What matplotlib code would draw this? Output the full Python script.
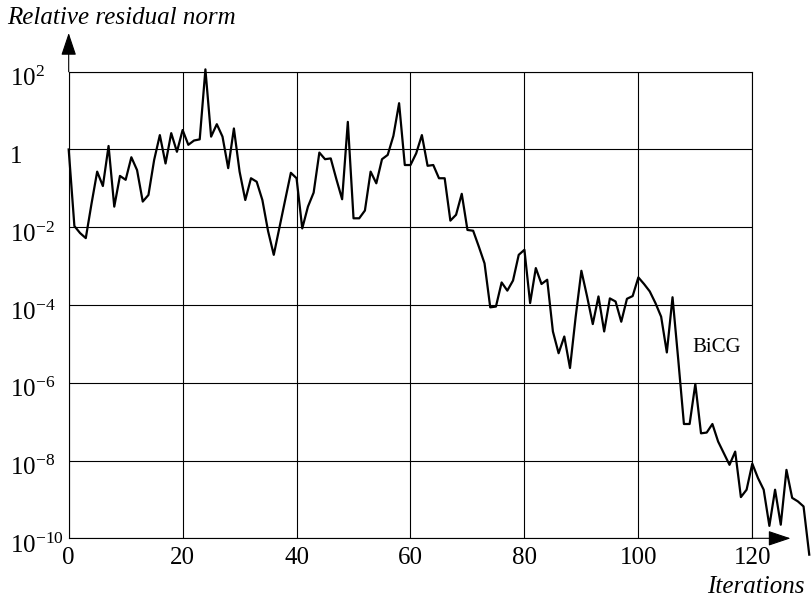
import numpy as np
import matplotlib
matplotlib.use("Agg")
from matplotlib import pyplot as plt
from matplotlib import transforms

# log10 of the relative residual norm, one value per BiCG iteration (0..130)
log_res = [
    0.00, -1.97, -2.15, -2.28, -1.40, -0.57, -0.94, 0.09, -1.47, -0.68,
    -0.78, -0.20, -0.53, -1.34, -1.17, -0.27, 0.37, -0.36, 0.42, -0.06,
    0.50, 0.12, 0.23, 0.26, 2.06, 0.33, 0.65, 0.33, -0.48, 0.54,
    -0.57, -1.30, -0.74, -0.83, -1.30, -2.10, -2.71, -2.00, -1.30, -0.60,
    -0.74, -2.03, -1.47, -1.11, -0.08, -0.25, -0.23, -0.77, -1.28, 0.71,
    -1.77, -1.77, -1.57, -0.57, -0.87, -0.25, -0.14, 0.35, 1.19, -0.40,
    -0.40, -0.10, 0.37, -0.42, -0.40, -0.74, -0.74, -1.83, -1.68, -1.14,
    -2.07, -2.09, -2.50, -2.93, -4.06, -4.04, -3.42, -3.63, -3.37, -2.71,
    -2.58, -3.95, -3.05, -3.46, -3.35, -4.68, -5.24, -4.81, -5.62, -4.30,
    -3.12, -3.78, -4.49, -3.78, -4.68, -3.83, -3.91, -4.43, -3.84, -3.77,
    -3.29, -3.46, -3.65, -3.95, -4.30, -5.22, -3.80, -5.40, -7.06, -7.06,
    -6.03, -7.30, -7.28, -7.06, -7.51, -7.81, -8.11, -7.77, -8.94, -8.75,
    -8.08, -8.45, -8.75, -9.68, -8.75, -9.65, -8.24, -8.96, -9.05, -9.18,
    -10.42,
]
iters = np.arange(len(log_res))
residual = 10.0 ** np.array(log_res)

x_ticks = [0, 20, 40, 60, 80, 100, 120]
y_ticks = [1e-10, 1e-8, 1e-6, 1e-4, 1e-2, 1, 1e2]
y_labels = ["$10^{-10}$", "$10^{-8}$", "$10^{-6}$", "$10^{-4}$", "$10^{-2}$", "1", "$10^{2}$"]

plt.rcParams["font.family"] = "Liberation Serif"
plt.rcParams["mathtext.fontset"] = "custom"
plt.rcParams["mathtext.rm"] = "Liberation Serif"
plt.rcParams["mathtext.it"] = "Liberation Serif:italic"

fig = plt.figure(figsize=(8.11, 5.98), dpi=100)
ax = fig.add_axes([0.0847, 0.0998, 0.8429, 0.7803])

ax.plot(iters, residual, color="black", lw=1.6, clip_on=False, zorder=3)

ax.set_yscale("log")
ax.set_xlim(0, 120)
ax.set_ylim(1e-10, 1e2)
ax.set_xticks(x_ticks)
ax.set_xticklabels([str(v) for v in x_ticks])
ax.set_yticks(y_ticks)
ax.set_yticklabels(y_labels)
ax.minorticks_off()
ax.tick_params(length=0, labelsize=18)
ax.tick_params(axis="x", pad=6)
ax.tick_params(axis="y", pad=42)
shift = transforms.ScaledTranslation(0, -0.05, fig.dpi_scale_trans)
for lbl in ax.get_yticklabels():
    lbl.set_horizontalalignment("left")
    lbl.set_transform(lbl.get_transform() + shift)

ax.grid(True, color="black", lw=0.8)
for sp in ax.spines.values():
    sp.set_linewidth(0.8)

# axis arrows
arrow = dict(arrowstyle="-|>,head_length=1.4,head_width=0.47", color="black",
             lw=0.8, shrinkA=0, shrinkB=0, mutation_scale=10)
ax.annotate("", xy=(0, 1.083), xytext=(0, 1), xycoords="axes fraction",
            arrowprops=arrow, annotation_clip=False)
ax.annotate("", xy=(1.056, 0), xytext=(1, 0), xycoords="axes fraction",
            arrowprops=arrow, annotation_clip=False)

ax.text(109.4, 10 ** -5.1, "BiCG", va="center", ha="left", fontsize=15)

fig.text(7 / 811, 1 - 18 / 598, "Relative residual norm", style="italic",
         fontsize=18, va="center", ha="left")
fig.text(805 / 811, 1 - 587 / 598, "Iterations", style="italic",
         fontsize=18, va="center", ha="right")

fig.savefig("out.png", dpi=100)
